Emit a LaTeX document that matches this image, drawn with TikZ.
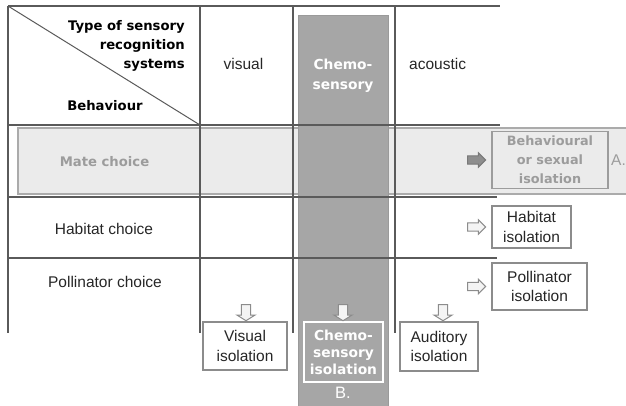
\documentclass[tikz,border=0pt]{standalone}
\usepackage{fontspec}
\setmainfont{Liberation Sans}
\newfontfamily\headfont{DejaVu Sans}
\usetikzlibrary{shapes.arrows}

\definecolor{rule}{HTML}{5A5A5A}
\definecolor{colgray}{HTML}{A6A6A6}
\definecolor{coledge}{HTML}{9A9A9A}
\definecolor{band}{HTML}{EBEBEB}
\definecolor{bandedge}{HTML}{ABABAB}
\definecolor{muted}{HTML}{9C9C9C}
\definecolor{boxedge}{HTML}{8C8C8C}
\definecolor{ink}{HTML}{262626}
\definecolor{arrowfill}{HTML}{F4F4F4}
\definecolor{arrowdark}{HTML}{8E8E8E}

\begin{document}
\begin{tikzpicture}[x=1pt,y=-1pt,
  tableline/.style={draw=rule, line width=1.3pt},
  reg/.style={font=\fontsize{15.5}{19.5}\selectfont, text=ink, inner sep=0pt},
  boldtxt/.style={font=\headfont\bfseries\fontsize{13.2}{19}\selectfont, inner sep=0pt},
  isobox/.style={draw=boxedge, line width=1.4pt, fill=white, align=center, inner sep=0pt, reg},
  rarrow/.style={single arrow, draw=boxedge, fill=arrowfill, line width=1pt,
    minimum height=18pt, inner xsep=0pt, inner ysep=3.6pt,
    single arrow head extend=3pt},
  darrow/.style={rarrow, rotate=-90, minimum height=16pt, inner ysep=4.2pt,
    single arrow head extend=4.4pt, single arrow tip angle=116}
]
\useasboundingbox (0,0) rectangle (626,405);

% light band behind the mate-choice row
\fill[band] (18,128) rectangle (626,194);
\draw[bandedge, line width=1.2pt] (626,128) -- (18,128) -- (18,194) -- (626,194);

% chemosensory column
\fill[colgray] (298,15) rectangle (388,406);
\draw[coledge, line width=0.8pt] (298,406) -- (298,15) -- (388,15) -- (388,406);

% table grid
\coordinate (tl) at (8,6);
\coordinate (hc) at (200,125);
\draw[tableline] (8,6) -- (500,6);
\draw[tableline] (8,125) -- (500,125);
\draw[tableline] (8,197) -- (497,197);
\draw[tableline] (8,258) -- (497,258);
\draw[tableline] (8,6) -- (8,333);
\draw[tableline] (200,6) -- (200,333);
\draw[tableline] (293,6) -- (293,333);
\draw[tableline] (395,6) -- (395,333);
\draw[draw=rule, line width=1pt] (tl) -- (hc);

% header cell
\node[boldtxt, align=right, anchor=east] (hdrtype) at (185,46)
  {Type of sensory\\recognition\\systems};
\node[boldtxt] (hdrbeh) at (105,106) {Behaviour};

% column heads
\node[reg] (colvis) at (243.5,64) {visual};
\node[boldtxt, text=white, align=center, font=\headfont\bfseries\fontsize{13.8}{20}\selectfont]
  (colchem) at (343,76) {Chemo-\\sensory};
\node[reg, anchor=west] (colacou) at (409,64) {acoustic};

% row heads
\node[boldtxt, text=muted] (rowmate) at (104.5,162) {Mate choice};
\node[reg] (rowhab) at (104,229) {Habitat choice};
\node[reg] (rowpol) at (105,282) {Pollinator choice};

% isolation boxes on the right
\node[isobox, draw=muted, fill=band, text=muted,
  font=\headfont\bfseries\fontsize{12.8}{19}\selectfont,
  minimum width=116pt, minimum height=57pt] (isobeh) at (550,160)
  {Behavioural\\or sexual\\isolation};
\node[isobox, minimum width=79pt, minimum height=42pt] (isohab) at (531.5,227)
  {Habitat\\isolation};
\node[isobox, minimum width=95pt, minimum height=47pt] (isopol) at (539.5,286.5)
  {Pollinator\\isolation};
\node[reg, text=muted, anchor=west] (labA) at (611,160) {A.};

% isolation boxes at the bottom
\node[isobox, minimum width=84pt, minimum height=48pt] (isovis) at (245,346)
  {Visual\\isolation};
\node[isobox, draw=white, fill=colgray, text=white,
  font=\headfont\bfseries\fontsize{13.8}{17}\selectfont,
  minimum width=79pt, minimum height=60pt] (isochem) at (343.5,352)
  {Chemo-\\sensory\\isolation};
\node[isobox, minimum width=78pt, minimum height=49pt] (isoaud) at (439,346.5)
  {Auditory\\isolation};
\node[reg, text=white, font=\fontsize{16.5}{19}\selectfont] (labB) at (343,393) {B.};

% block arrows pointing at the outcomes
\node[rarrow, fill=arrowdark, draw=arrowdark!85!black, anchor=tip]
  (armate) at ([xshift=-5pt]isobeh.west) {};
\node[rarrow, anchor=tip] (arhab) at ([xshift=-5pt]isohab.west) {};
\node[rarrow, anchor=tip] (arpol) at ([xshift=-5pt]isopol.west) {};
\node[darrow, anchor=tip] (arvis) at ([xshift=1pt]isovis.north) {};
\node[darrow, anchor=tip] (archem) at ([xshift=-0.5pt]isochem.north) {};
\node[darrow, anchor=tip] (araud) at ([xshift=4pt]isoaud.north) {};
\end{tikzpicture}
\end{document}
